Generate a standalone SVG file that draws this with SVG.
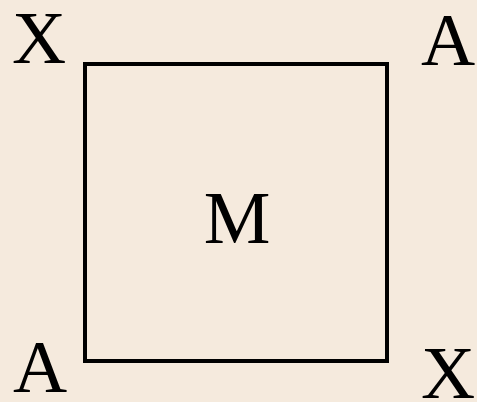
<svg xmlns="http://www.w3.org/2000/svg" width="477" height="402" viewBox="0 0 477 402">
<style>
.t{font-family:"Liberation Serif","Times New Roman",serif;font-size:75px;fill:#000}
</style>
<rect x="0" y="0" width="477" height="402" fill="#f5eadd"/>
<g id="square"><rect x="85" y="64" width="302" height="297" fill="none" stroke="#000" stroke-width="4"/></g>
<g id="center"><text class="t" x="237" y="243" text-anchor="middle">M</text></g>
<g id="tl"><text class="t" x="12" y="63">X</text></g>
<g id="tr"><text class="t" x="421" y="65">A</text></g>
<g id="bl"><text class="t" x="13" y="392">A</text></g>
<g id="br"><text class="t" x="421" y="398">X</text></g>
</svg>
